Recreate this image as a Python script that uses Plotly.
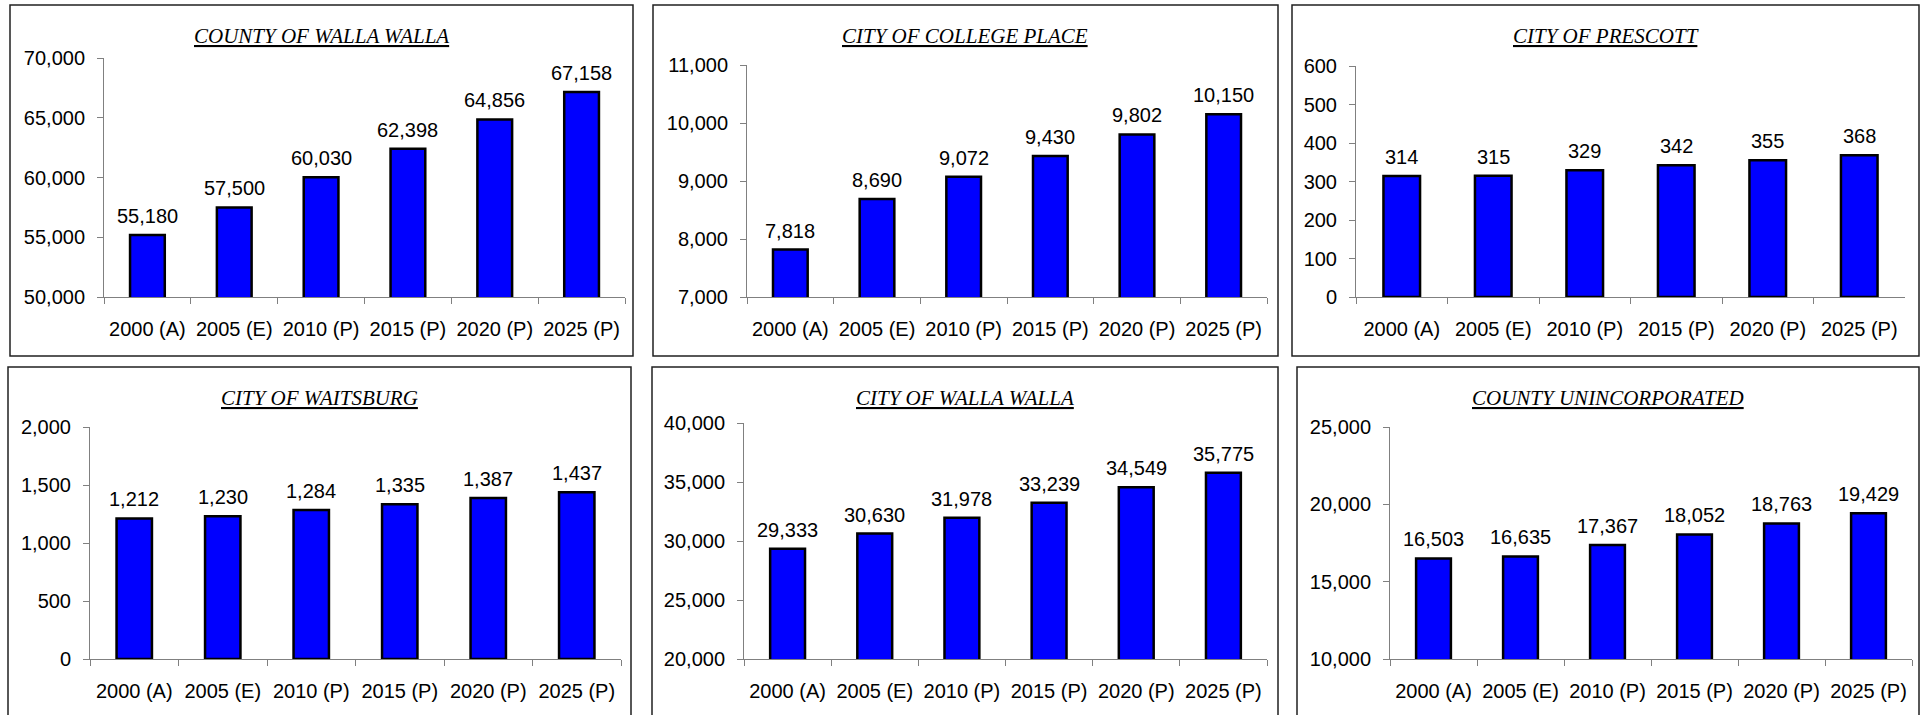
import plotly.graph_objects as go

# ---------------- data ----------------
categories = ["2000 (A)", "2005 (E)", "2010 (P)", "2015 (P)", "2020 (P)", "2025 (P)"]

county_walla_walla = [55180, 57500, 60030, 62398, 64856, 67158]
city_college_place = [7818, 8690, 9072, 9430, 9802, 10150]
city_prescott = [314, 315, 329, 342, 355, 368]
city_waitsburg = [1212, 1230, 1284, 1335, 1387, 1437]
city_walla_walla = [29333, 30630, 31978, 33239, 34549, 35775]
county_unincorporated = [16503, 16635, 17367, 18052, 18763, 19429]

titles = [
    "COUNTY OF WALLA WALLA",
    "CITY OF COLLEGE PLACE",
    "CITY OF PRESCOTT",
    "CITY OF WAITSBURG",
    "CITY OF WALLA WALLA",
    "COUNTY UNINCORPORATED",
]
series = [county_walla_walla, city_college_place, city_prescott,
          city_waitsburg, city_walla_walla, county_unincorporated]
y_ranges = [[50000, 70000], [7000, 11000], [0, 600], [0, 2000], [20000, 40000], [10000, 25000]]
y_dticks = [5000, 1000, 100, 500, 5000, 5000]

# ---------------- layout (pixels) ----------------
W, H = 1921, 715
# plot areas: x0, x1, y_top, y_bottom
plot_px = [
    (104, 625, 58, 297),
    (747, 1267, 65, 297),
    (1356, 1905, 66, 297),
    (90, 621, 427, 659),
    (744, 1267, 423, 659),
    (1390, 1912, 427, 659),
]
# panel boxes: x0, x1, y_top, y_bottom
box_px = [
    (10, 633, 5, 356),
    (653, 1278, 5, 356),
    (1292, 1919, 5, 356),
    (8, 631, 367, 730),
    (652, 1278, 367, 730),
    (1297, 1919, 367, 730),
]

def fx(px):
    return px / W

def fy(py):
    return 1 - py / H

SANS = "Liberation Sans, Arial, sans-serif"
SERIF = "Liberation Serif, Times New Roman, serif"

fig = go.Figure()
layout = dict(
    width=W, height=H,
    margin=dict(l=0, r=0, t=0, b=0, autoexpand=False),
    paper_bgcolor="white", plot_bgcolor="white",
    showlegend=False,
    bargap=0.6,
    font=dict(family=SANS, size=20, color="black"),
)
annotations = []
shapes = []

for i in range(6):
    n = "" if i == 0 else str(i + 1)
    xa, ya = "x" + n, "y" + n
    fig.add_trace(go.Bar(
        x=categories, y=series[i], xaxis=xa, yaxis=ya,
        marker=dict(color="#0000FF", line=dict(color="black", width=2.5)),
        hoverinfo="x+y",
    ))
    x0, x1, yt, yb = plot_px[i]
    layout["xaxis" + n] = dict(
        domain=[fx(x0), fx(x1)], anchor=ya,
        type="category", automargin=False,
        showline=True, linecolor="#808080", linewidth=1,
        ticks="outside", tickson="boundaries", ticklen=6, tickcolor="#808080",
        showgrid=False, zeroline=False,
        tickfont=dict(family=SANS, size=20, color="black"),
        ticklabelstandoff=14,
    )
    layout["yaxis" + n] = dict(
        domain=[fy(yb), fy(yt)], anchor=xa, automargin=False,
        range=y_ranges[i], dtick=y_dticks[i], tick0=0,
        showline=True, linecolor="#808080", linewidth=1,
        ticks="outside", ticklen=6, tickcolor="#808080",
        showgrid=False, zeroline=False,
        tickformat=",d",
        tickfont=dict(family=SANS, size=20, color="black"),
        ticklabelstandoff=8,
    )
    for c, v in zip(categories, series[i]):
        annotations.append(dict(
            x=c, y=v, xref=xa, yref=ya,
            text=f"{v:,}", showarrow=False,
            yanchor="bottom", yshift=6,
            font=dict(family=SANS, size=20, color="black"),
        ))
    bx0, bx1, by0, by1 = box_px[i]
    shapes.append(dict(
        type="rect", xref="paper", yref="paper",
        x0=fx(bx0), x1=fx(bx1), y0=fy(by1), y1=fy(by0),
        line=dict(color="#202020", width=1.5), fillcolor="rgba(0,0,0,0)",
        layer="below",
    ))
    annotations.append(dict(
        x=fx((bx0 + bx1) / 2), y=fy(by0 + 31), xref="paper", yref="paper",
        text="<u>" + titles[i] + "</u>", showarrow=False,
        xanchor="center", yanchor="middle",
        font=dict(family=SERIF, size=21, color="black", style="italic"),
    ))

layout["annotations"] = annotations
layout["shapes"] = shapes
fig.update_layout(**layout)

fig.write_html(
    "out.html",
    config={"displayModeBar": False},
    post_script="document.body.style.margin='0';document.body.style.overflow='hidden';",
)
